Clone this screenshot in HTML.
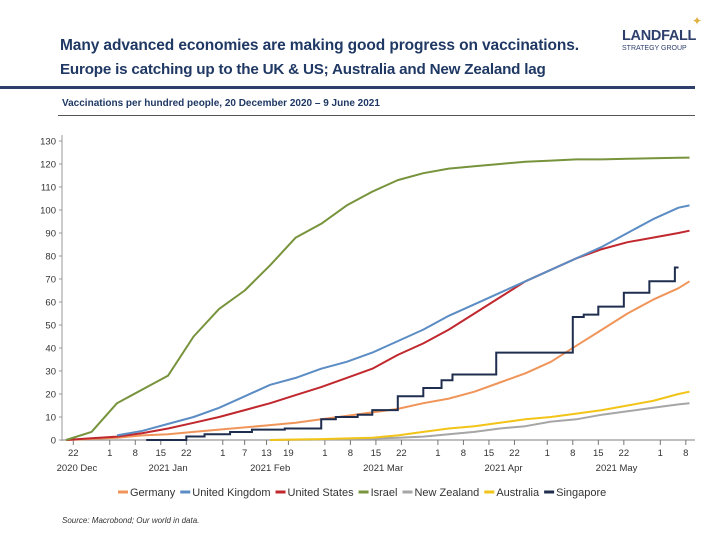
<!DOCTYPE html>
<html><head><meta charset="utf-8"><style>
body{margin:0;background:#fff;font-family:"Liberation Sans",sans-serif;}
#wrap{position:relative;width:720px;height:540px;overflow:hidden;}
.t{position:absolute;white-space:nowrap;}
</style></head><body>
<div id="wrap">
<div class="t" style="left:60px;top:37px;font-size:15.5px;font-weight:bold;color:#1f3864;letter-spacing:-0.1px;">Many advanced economies are making good progress on vaccinations.</div>
<div class="t" style="left:60px;top:61px;font-size:15.2px;font-weight:bold;color:#1f3864;letter-spacing:-0.2px;">Europe is catching up to the UK &amp; US; Australia and New Zealand lag</div>
<div class="t" style="left:622px;top:28px;font-size:14.5px;font-weight:bold;color:#2e3f6b;letter-spacing:-0.3px;">LANDFALL</div>
<div class="t" style="left:622px;top:45px;font-size:7px;color:#2e3f6b;">STRATEGY GROUP</div>
<div class="t" style="left:692px;top:14px;font-size:12px;color:#e0b040;">✦</div>
<div style="position:absolute;left:0;top:86px;width:695px;height:3px;background:#2e3f6b;"></div>
<div class="t" style="left:62px;top:98px;font-size:10px;font-weight:bold;color:#1f3864;">Vaccinations per hundred people, 20 December 2020 – 9 June 2021</div>
<div style="position:absolute;left:58px;top:115px;width:637px;height:1px;background:#555;"></div>
<svg id="chart" width="720" height="540" style="position:absolute;left:0;top:0;"></svg>
<div class="t" style="left:62px;top:516px;font-size:8px;font-style:italic;color:#333;">Source: Macrobond;  Our world in data.</div>
</div>
<script>
const days=[0,7,14,21,28,35,42,49,56,63,70,77,84,91,98,105,112,119,126,133,140,147,154,161,168,171];
const israel=[0,3.5,16,22,28,45,57,65,76,88,94,102,108,113,116,118,119,120,121,121.5,122,122,122.3,122.5,122.7,122.8];
const uk=[null,null,2,4,7,10,14,19,24,27,31,34,38,43,48,54,59,64,69,74,79,84,90,96,101,102];
const us=[0,0.8,1.5,3,5,7.5,10,13,16,19.5,23,27,31,37,42,48,55,62,69,74,79,83,86,88,90,91];
const germany=[0,0.5,1,2,2.5,3.5,4.5,5.5,6.5,7.5,9,10.5,12,13.5,16,18,21,25,29,34,41,48,55,61,66,69];
const australia=[null,null,null,null,null,null,null,null,0,0.2,0.4,0.7,1,2,3.5,5,6,7.5,9,10,11.5,13,15,17,20,21];
const nz=[null,null,null,null,null,null,null,null,0,0.1,0.2,0.4,0.6,1,1.5,2.5,3.5,5,6,8,9,11,12.5,14,15.5,16];
const sgDays=[22,33,38,45,51,60,70,74,80,84,91,98,103,106,118,139,142,146,153,160,167,168];
const sgVals=[0,1.5,2.5,3.5,4.5,5,9,10,11,13,19,22.6,26,28.5,38,53.5,54.5,58,64,69,75,75];
const yTicks=[0,10,20,30,40,50,60,70,80,90,100,110,120,130];
const xTickDays=[2,12,19,26,33,43,49,55,61,71,78,85,92,102,109,116,123,132,139,146,153,163,170];
const xTickLabels=["22","1","8","15","22","1","7","13","19","1","8","15","22","1","8","15","22","1","8","15","22","1","8"];
const monthLabels=["2020 Dec","2021 Jan","2021 Feb","2021 Mar","2021 Apr","2021 May"];
const monthDays=[3,28,56,87,120,151];
const X=d=>66+d*3.646, Y=v=>440-v*2.3;
const svg=document.getElementById('chart'),NS='http://www.w3.org/2000/svg';
function mk(tag,attrs,parent){const e=document.createElementNS(NS,tag);for(const k in attrs)e.setAttribute(k,attrs[k]);(parent||svg).appendChild(e);return e;}
let e;
e=mk('line',{x1:62,y1:135,x2:62,y2:441,stroke:'#999','stroke-width':1});


e=mk('line',{x1:62,y1:440,x2:695,y2:440,stroke:'#999','stroke-width':1.2});


yTicks.forEach(v=>{
 mk('line',{x1:59,y1:Y(v),x2:62,y2:Y(v),stroke:'#999'});
 const t=mk('text',{x:56,y:Y(v)+3.5,'text-anchor':'end','font-size':9.5,fill:'#333','font-family':'Liberation Sans'});
 t.textContent=v;
 
 
});
xTickDays.forEach((d,i)=>{
 mk('line',{x1:X(d),y1:440,x2:X(d),y2:445,stroke:'#777'});
 const t=mk('text',{x:X(d),y:456,'text-anchor':'middle','font-size':9.5,fill:'#333','font-family':'Liberation Sans'});
 t.textContent=xTickLabels[i];
 
 
});
monthLabels.forEach((m,i)=>{
 const t=mk('text',{x:X(monthDays[i]),y:471,'text-anchor':'middle','font-size':9.5,fill:'#333','font-family':'Liberation Sans'});
 t.textContent=m;
 
 
});
function line(vals,color,name){
 let p='';vals.forEach((v,i)=>{if(v===null)return;p+=(p?'L':'M')+X(days[i]).toFixed(1)+','+Y(v).toFixed(1);});
 const el=mk('path',{d:p,fill:'none',stroke:color,'stroke-width':2,'stroke-linejoin':'round'});
 
 
}
line(nz,'#a6a6a6','series-new-zealand');
line(australia,'#f2c418','series-australia');
line(germany,'#f0955a','series-germany');
line(us,'#c0282e','series-united-states');
line(uk,'#5b8cc4','series-united-kingdom');
line(israel,'#77933c','series-israel');
let sp='';sgDays.forEach((d,i)=>{if(i===0)sp='M'+X(d)+','+Y(sgVals[0]);else sp+='L'+X(d)+','+Y(sgVals[i-1])+'L'+X(d)+','+Y(sgVals[i]);});
e=mk('path',{d:sp,fill:'none',stroke:'#1f2d4e','stroke-width':2});


const legNames=["Germany","United Kingdom","United States","Israel","New Zealand","Australia","Singapore"];
const legColors=["#f0955a","#5b8cc4","#c0282e","#77933c","#a6a6a6","#f2c418","#1f2d4e"];
let lx=118;
legNames.forEach((n,i)=>{
 const g=mk('g',{});
 
 
 mk('line',{x1:lx,y1:492,x2:lx+10,y2:492,stroke:legColors[i],'stroke-width':3},g);
 const t=mk('text',{x:lx+12,y:496,'font-size':11,fill:'#333','font-family':'Liberation Sans'},g);
 t.textContent=n;
 lx+=12+t.getComputedTextLength()+5;
});
</script>
</body></html>
